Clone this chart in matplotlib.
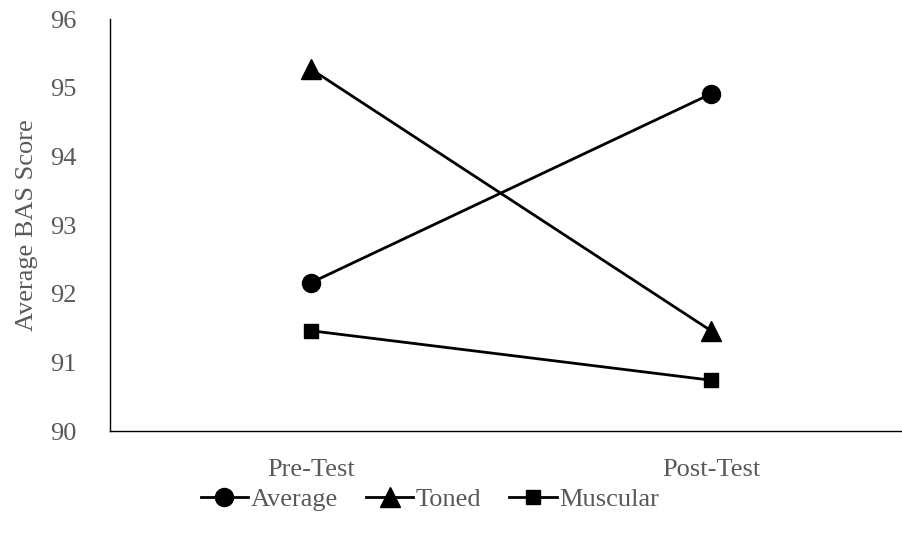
import matplotlib
matplotlib.use("Agg")
import matplotlib.pyplot as plt

categories = ["Pre-Test", "Post-Test"]
average = [92.16, 94.91]
toned = [95.27, 91.46]
muscular = [91.46, 90.74]
yticks = [90, 91, 92, 93, 94, 95, 96]

plt.rcParams['font.family'] = ['Liberation Serif', 'DejaVu Serif']
gray = '#595959'
fs = 19

fig = plt.figure(figsize=(9.03, 5.42), dpi=100)
ax = fig.add_axes([110/903, 1 - 431/542, (903-110)/903, (431-19)/542])

x = list(range(len(categories)))
ax.plot(x, average, color='black', lw=2, marker='o', markersize=13, label='Average')
ax.plot(x, toned, color='black', lw=2, marker='^', markersize=14, label='Toned')
ax.plot(x, muscular, color='black', lw=2, marker='s', markersize=10, label='Muscular')

ax.set_ylim(90, 96)
ax.set_yticks(yticks)
ax.set_xlim(-201/400, (903-311)/400)
ax.set_xticks(x)
ax.set_xticklabels(categories)
ax.tick_params(axis='both', length=0, labelsize=fs, colors=gray)
ax.tick_params(axis='y', pad=24)
ax.tick_params(axis='x', pad=20)
for s in ['top', 'right']:
    ax.spines[s].set_visible(False)
for s in ['left', 'bottom']:
    ax.spines[s].set_color('black')
    ax.spines[s].set_linewidth(1)
ax.set_ylabel('Average BAS Score', fontsize=fs, color=gray, labelpad=9)

leg = fig.legend(loc='center', bbox_to_anchor=(430/903, 1 - 499/542), ncol=3, frameon=False,
                 fontsize=fs, handlelength=1.8, columnspacing=1.05, handletextpad=0.1)
for t in leg.get_texts():
    t.set_color(gray)

fig.savefig('out.png', dpi=100)
